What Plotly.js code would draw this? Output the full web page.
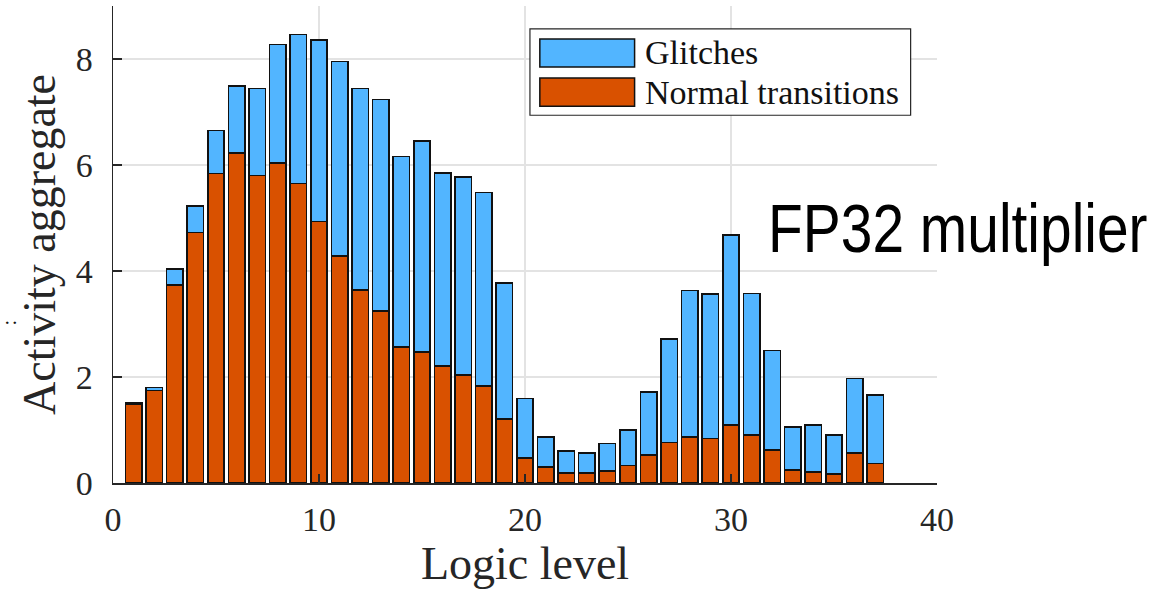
<!DOCTYPE html>
<html>
<head>
<meta charset="utf-8">
<script src="https://cdn.plot.ly/plotly-3.0.1.min.js"></script>
<style>
  html, body { margin: 0; padding: 0; background: #ffffff; }
  #chart { width: 1165px; height: 592px; }
</style>
</head>
<body>
<div id="chart"></div>
<script>
// Switching activity per logic level of an FP32 multiplier
const levels = [1,2,3,4,5,6,7,8,9,10,11,12,13,14,15,16,17,18,19,20,21,22,23,24,25,26,27,28,29,30,31,32,33,34,35,36,37];
const normalTransitions = [1.49,1.75,3.74,4.73,5.84,6.23,5.80,6.04,5.65,4.93,4.28,3.64,3.25,2.57,2.47,2.21,2.04,1.83,1.21,0.47,0.30,0.19,0.19,0.23,0.33,0.53,0.76,0.87,0.84,1.09,0.91,0.62,0.25,0.21,0.17,0.57,0.37];
const glitches = [0.03,0.05,0.30,0.50,0.81,1.26,1.64,2.23,2.81,3.43,3.67,3.80,3.99,3.59,3.98,3.64,3.73,3.65,2.56,1.12,0.57,0.41,0.38,0.52,0.67,1.19,1.96,2.76,2.73,3.59,2.67,1.88,0.81,0.88,0.74,1.40,1.29];
const seriesNames = ['Glitches', 'Normal transitions'];
const xTicks = [0, 10, 20, 30, 40];
const yTicks = [0, 2, 4, 6, 8];

const BLUE = '#52B5FF';
const ORANGE = '#D95100';
const AXIS = '#262626';
const SERIF = '"Liberation Serif", "Times New Roman", serif';

const traces = [
  {
    type: 'bar', name: seriesNames[1], x: levels, y: normalTransitions, width: 0.8,
    marker: { color: ORANGE, line: { color: '#111111', width: 1.5 } }
  },
  {
    type: 'bar', name: seriesNames[0], x: levels, y: glitches, width: 0.8,
    marker: { color: BLUE, line: { color: '#111111', width: 1.5 } }
  }
];

// Legend box drawn in paper space (wide swatches)
const legBox = { x0: 0.506, x1: 0.968, y0: 0.771, y1: 0.952 };
const swatchX = [0.518, 0.633];
const rows = [
  { name: seriesNames[0], color: BLUE, y0: 0.872, y1: 0.931 },
  { name: seriesNames[1], color: ORANGE, y0: 0.790, y1: 0.849 }
];

const shapes = [
  { type: 'rect', xref: 'paper', yref: 'paper', x0: legBox.x0, x1: legBox.x1, y0: legBox.y0, y1: legBox.y1,
    fillcolor: '#ffffff', line: { color: AXIS, width: 1.2 }, layer: 'above' }
];
const annotations = [];
rows.forEach(r => {
  shapes.push({ type: 'rect', xref: 'paper', yref: 'paper', x0: swatchX[0], x1: swatchX[1], y0: r.y0, y1: r.y1,
    fillcolor: r.color, line: { color: '#111111', width: 1.5 }, layer: 'above' });
  annotations.push({ xref: 'paper', yref: 'paper', x: 0.643, y: (r.y0 + r.y1) / 2,
    xanchor: 'left', yanchor: 'middle', showarrow: false, text: r.name,
    font: { family: SERIF, size: 34, color: '#111111' } });
});

// Condensed sans label; narrowed horizontally after render
const LABEL_INDEX = annotations.length;
const LABEL_SQUEEZE = 0.837;
annotations.push({
  xref: 'paper', yref: 'paper', x: 0.7925, y: 0.535, xanchor: 'left', yanchor: 'middle',
  showarrow: false, text: 'FP32 multiplier',
  font: { family: '"Liberation Sans", Arial, sans-serif', size: 68, color: '#000000' }
});
annotations.push({
  xref: 'paper', yref: 'paper', x: -0.126, y: 0.337, xanchor: 'center', yanchor: 'middle',
  showarrow: false, text: ':', textangle: -90,
  font: { family: SERIF, size: 20, color: '#111111' }
});

const layout = {
  width: 1165, height: 592,
  margin: { l: 113, r: 228, t: 6, b: 109, pad: 0 },
  paper_bgcolor: '#ffffff', plot_bgcolor: '#ffffff',
  barmode: 'stack', showlegend: false,
  font: { family: SERIF, color: '#262626' },
  xaxis: {
    range: [0, 40], tickvals: xTicks, ticktext: xTicks.map(String),
    showgrid: true, gridcolor: '#e3e3e3', gridwidth: 1.2, zeroline: false,
    showline: true, linecolor: AXIS, linewidth: 1.5, mirror: false,
    ticks: 'inside', ticklen: 9, tickwidth: 1.5, tickcolor: AXIS,
    tickfont: { family: SERIF, size: 34, color: '#262626' }, ticklabelstandoff: 6,
    title: { text: 'Logic level', font: { family: SERIF, size: 46, color: '#262626' }, standoff: 6 }
  },
  yaxis: {
    range: [0, 9], tickvals: yTicks, ticktext: yTicks.map(String),
    showgrid: true, gridcolor: '#e3e3e3', gridwidth: 1.2, zeroline: false,
    showline: true, linecolor: AXIS, linewidth: 1.5, mirror: false,
    ticks: 'inside', ticklen: 9, tickwidth: 1.5, tickcolor: AXIS,
    tickfont: { family: SERIF, size: 34, color: '#262626' }, ticklabelstandoff: 12,
    title: { text: 'Activity aggregate', font: { family: SERIF, size: 46, color: '#262626' }, standoff: 5 }
  },
  shapes: shapes,
  annotations: annotations
};

Plotly.newPlot('chart', traces, layout, { displayModeBar: false, staticPlot: true }).then(gd => {
  const txt = gd.querySelector('.annotation[data-index="' + LABEL_INDEX + '"] text');
  if (txt) {
    const bb = txt.getBBox();
    txt.setAttribute('transform',
      'translate(' + bb.x + ',0) scale(' + LABEL_SQUEEZE + ',1) translate(' + (-bb.x) + ',0)');
  }
});
</script>
</body>
</html>
